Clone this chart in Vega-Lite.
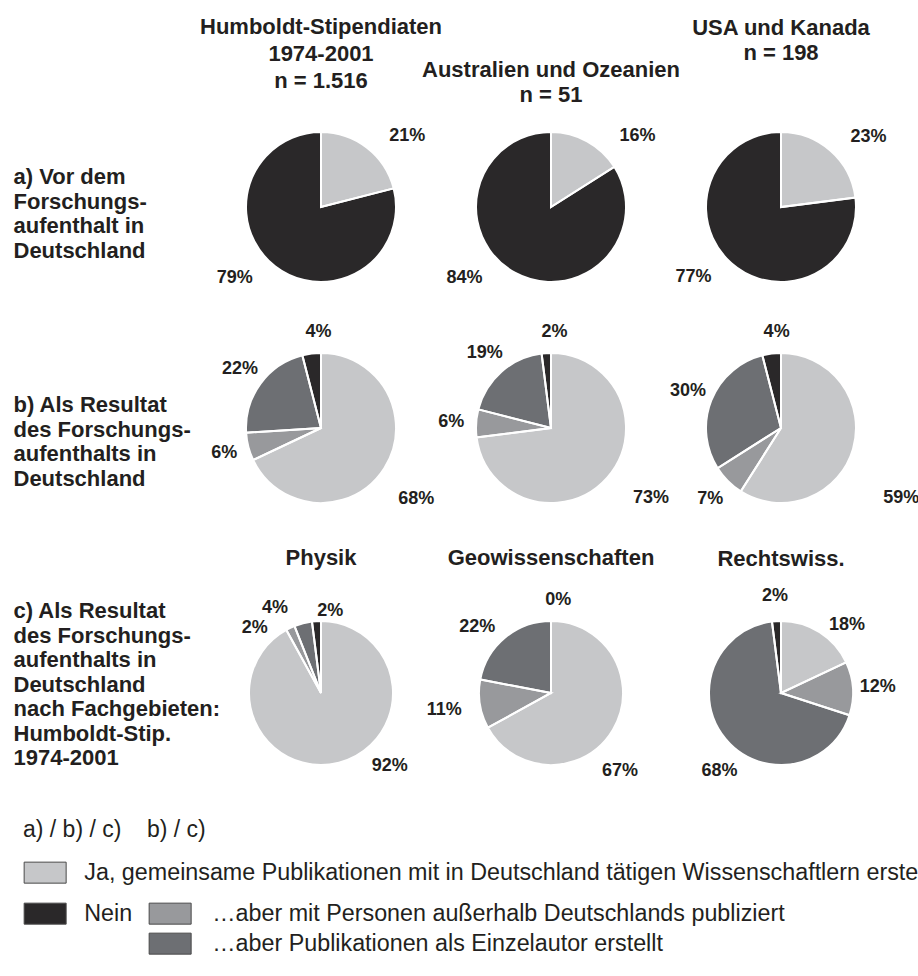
{
  "$schema": "https://vega.github.io/schema/vega-lite/v6.json",
  "background": "white",
  "padding": {"left": 13, "top": 15, "right": 0, "bottom": 5},
  "config": {
    "view": {"stroke": null},
    "font": "Liberation Sans",
    "title": {"fontSize": 22, "fontWeight": "bold", "color": "#231f20", "lineHeight": 25, "anchor": "middle"},
    "text": {"fontSize": 18, "fontWeight": "bold", "color": "#231f20"}
  },
  "datasets": {
    "pies": [
      {"p": "a1", "k": 1, "cat": "Ja, gemeinsame Publikationen mit in Deutschland tätigen Wissenschaftlern erstellt", "v": 0.21},
      {"p": "a1", "k": 4, "cat": "Nein", "v": 0.79},
      {"p": "a2", "k": 1, "cat": "Ja, gemeinsame Publikationen mit in Deutschland tätigen Wissenschaftlern erstellt", "v": 0.16},
      {"p": "a2", "k": 4, "cat": "Nein", "v": 0.84},
      {"p": "a3", "k": 1, "cat": "Ja, gemeinsame Publikationen mit in Deutschland tätigen Wissenschaftlern erstellt", "v": 0.23},
      {"p": "a3", "k": 4, "cat": "Nein", "v": 0.77},
      {"p": "b1", "k": 1, "cat": "Ja, gemeinsame Publikationen mit in Deutschland tätigen Wissenschaftlern erstellt", "v": 0.68},
      {"p": "b1", "k": 2, "cat": "…aber mit Personen außerhalb Deutschlands publiziert", "v": 0.06},
      {"p": "b1", "k": 3, "cat": "…aber Publikationen als Einzelautor erstellt", "v": 0.22},
      {"p": "b1", "k": 4, "cat": "Nein", "v": 0.04},
      {"p": "b2", "k": 1, "cat": "Ja, gemeinsame Publikationen mit in Deutschland tätigen Wissenschaftlern erstellt", "v": 0.73},
      {"p": "b2", "k": 2, "cat": "…aber mit Personen außerhalb Deutschlands publiziert", "v": 0.06},
      {"p": "b2", "k": 3, "cat": "…aber Publikationen als Einzelautor erstellt", "v": 0.19},
      {"p": "b2", "k": 4, "cat": "Nein", "v": 0.02},
      {"p": "b3", "k": 1, "cat": "Ja, gemeinsame Publikationen mit in Deutschland tätigen Wissenschaftlern erstellt", "v": 0.59},
      {"p": "b3", "k": 2, "cat": "…aber mit Personen außerhalb Deutschlands publiziert", "v": 0.07},
      {"p": "b3", "k": 3, "cat": "…aber Publikationen als Einzelautor erstellt", "v": 0.30},
      {"p": "b3", "k": 4, "cat": "Nein", "v": 0.04},
      {"p": "c1", "k": 1, "cat": "Ja, gemeinsame Publikationen mit in Deutschland tätigen Wissenschaftlern erstellt", "v": 0.92},
      {"p": "c1", "k": 2, "cat": "…aber mit Personen außerhalb Deutschlands publiziert", "v": 0.02},
      {"p": "c1", "k": 3, "cat": "…aber Publikationen als Einzelautor erstellt", "v": 0.04},
      {"p": "c1", "k": 4, "cat": "Nein", "v": 0.02},
      {"p": "c2", "k": 1, "cat": "Ja, gemeinsame Publikationen mit in Deutschland tätigen Wissenschaftlern erstellt", "v": 0.67},
      {"p": "c2", "k": 2, "cat": "…aber mit Personen außerhalb Deutschlands publiziert", "v": 0.11},
      {"p": "c2", "k": 3, "cat": "…aber Publikationen als Einzelautor erstellt", "v": 0.22},
      {"p": "c2", "k": 4, "cat": "Nein", "v": 0.0},
      {"p": "c3", "k": 1, "cat": "Ja, gemeinsame Publikationen mit in Deutschland tätigen Wissenschaftlern erstellt", "v": 0.18},
      {"p": "c3", "k": 2, "cat": "…aber mit Personen außerhalb Deutschlands publiziert", "v": 0.12},
      {"p": "c3", "k": 3, "cat": "…aber Publikationen als Einzelautor erstellt", "v": 0.68},
      {"p": "c3", "k": 4, "cat": "Nein", "v": 0.02}
    ],
    "rowlabels": [
      {"r": "a", "t": "a) Vor dem\nForschungs-\naufenthalt in\nDeutschland"},
      {"r": "b", "t": "b) Als Resultat\ndes Forschungs-\naufenthalts in\nDeutschland"},
      {"r": "c", "t": "c) Als Resultat\ndes Forschungs-\naufenthalts in\nDeutschland\nnach Fachgebieten:\nHumboldt-Stip.\n1974-2001"}
    ]
  },
  "data": {"name": "pies"},
  "spacing": 31,
  "vconcat": [
    {
      "bounds": "flush", "spacing": 232,
      "hconcat": [
        {"width": 1, "height": 150, "data": {"name": "rowlabels"}, "transform": [{"filter": "datum.r === 'a'"}],
         "mark": {"type": "text", "align": "left", "baseline": "middle", "lineBreak": "\n", "fontSize": 22, "fontWeight": "bold", "lineHeight": 24.5, "dy": -30},
         "encoding": {"text": {"field": "t", "type": "nominal"}}},
        {
          "bounds": "flush", "spacing": 80,
          "hconcat": [
            {"width": 150, "height": 150,
             "title": {"text": ["Humboldt-Stipendiaten", "1974-2001", "n = 1.516"], "offset": 34, "lineHeight": 27},
             "transform": [{"filter": "datum.p === 'a1'"}],
             "layer": [
               {"mark": {"type": "arc", "outerRadius": 75},
                "encoding": {"theta": {"field": "v", "type": "quantitative", "stack": true, "scale": {"domain": [0, 1]}},
                  "color": {"field": "cat", "type": "nominal",
                    "scale": {"domain": ["Ja, gemeinsame Publikationen mit in Deutschland tätigen Wissenschaftlern erstellt", "Nein"], "range": ["#c6c7c9", "#2a2829"]},
                    "legend": {"title": "a) / b) / c)\u00a0\u00a0\u00a0\u00a0b) / c)", "orient": "none", "legendX": 10, "legendY": 687, "direction": "vertical", "symbolType": "M-1,-1H3V1H-1Z", "symbolSize": 441, "symbolStrokeColor": "#4a4a4a", "symbolStrokeWidth": 1, "symbolOpacity": 1, "labelFont": "Liberation Sans", "labelFontSize": 23.3, "labelColor": "#231f20", "labelLimit": 0, "labelOffset": 38, "titleFont": "Liberation Sans", "titleFontSize": 23, "titleFontWeight": "normal", "titleColor": "#231f20", "titlePadding": 19, "titleLimit": 0, "rowPadding": 15, "padding": 0}},
                  "order": {"field": "k", "type": "quantitative"}}},
               {"mark": {"type": "arc", "outerRadius": 75, "filled": false, "stroke": "white", "strokeWidth": 2},
                "encoding": {"theta": {"field": "v", "type": "quantitative", "stack": true}, "order": {"field": "k", "type": "quantitative"}}},
               {"mark": {"type": "text", "radius": 112, "thetaOffset": 0.22},
                "encoding": {"theta": {"field": "v", "type": "quantitative", "stack": true}, "order": {"field": "k", "type": "quantitative"},
                  "text": {"field": "v", "type": "quantitative", "format": ".0%"}}}
             ]},
            {"width": 150, "height": 150,
             "title": {"text": ["Australien und Ozeanien", "n = 51"], "offset": 20},
             "transform": [{"filter": "datum.p === 'a2'"}],
             "layer": [
               {"mark": {"type": "arc", "outerRadius": 75},
                "encoding": {"theta": {"field": "v", "type": "quantitative", "stack": true, "scale": {"domain": [0, 1]}},
                  "color": {"field": "cat", "type": "nominal",
                    "scale": {"domain": ["Ja, gemeinsame Publikationen mit in Deutschland tätigen Wissenschaftlern erstellt", "Nein"], "range": ["#c6c7c9", "#2a2829"]}},
                  "order": {"field": "k", "type": "quantitative"}}},
               {"mark": {"type": "arc", "outerRadius": 75, "filled": false, "stroke": "white", "strokeWidth": 2},
                "encoding": {"theta": {"field": "v", "type": "quantitative", "stack": true}, "order": {"field": "k", "type": "quantitative"}}},
               {"mark": {"type": "text", "radius": 112, "thetaOffset": 0.38},
                "encoding": {"theta": {"field": "v", "type": "quantitative", "stack": true}, "order": {"field": "k", "type": "quantitative"},
                  "text": {"field": "v", "type": "quantitative", "format": ".0%"}}}
             ]},
            {"width": 150, "height": 150,
             "title": {"text": ["USA und Kanada", "n = 198"], "offset": 63},
             "transform": [{"filter": "datum.p === 'a3'"}],
             "layer": [
               {"mark": {"type": "arc", "outerRadius": 75},
                "encoding": {"theta": {"field": "v", "type": "quantitative", "stack": true, "scale": {"domain": [0, 1]}},
                  "color": {"field": "cat", "type": "nominal",
                    "scale": {"domain": ["Ja, gemeinsame Publikationen mit in Deutschland tätigen Wissenschaftlern erstellt", "Nein"], "range": ["#c6c7c9", "#2a2829"]}},
                  "order": {"field": "k", "type": "quantitative"}}},
               {"mark": {"type": "arc", "outerRadius": 75, "filled": false, "stroke": "white", "strokeWidth": 2},
                "encoding": {"theta": {"field": "v", "type": "quantitative", "stack": true}, "order": {"field": "k", "type": "quantitative"}}},
               {"mark": {"type": "text", "radius": 112, "thetaOffset": 0.175},
                "encoding": {"theta": {"field": "v", "type": "quantitative", "stack": true}, "order": {"field": "k", "type": "quantitative"},
                  "text": {"field": "v", "type": "quantitative", "format": ".0%"}}}
             ]}
          ]
        }
      ]
    },
    {
      "bounds": "flush", "spacing": 232,
      "hconcat": [
        {"width": 1, "height": 174, "data": {"name": "rowlabels"}, "transform": [{"filter": "datum.r === 'b'"}],
         "mark": {"type": "text", "align": "left", "baseline": "middle", "lineBreak": "\n", "fontSize": 22, "fontWeight": "bold", "lineHeight": 24.5, "dy": -23},
         "encoding": {"text": {"field": "t", "type": "nominal"}}},
        {
          "bounds": "flush", "spacing": 80,
          "hconcat": [
            {"width": 150, "height": 174,
             "transform": [{"filter": "datum.p === 'b1'"}],
             "layer": [
               {"mark": {"type": "arc", "outerRadius": 75},
                "encoding": {"theta": {"field": "v", "type": "quantitative", "stack": true, "scale": {"domain": [0, 1]}},
                  "fill": {"field": "cat", "type": "nominal",
                    "scale": {"domain": ["Ja, gemeinsame Publikationen mit in Deutschland tätigen Wissenschaftlern erstellt", "…aber mit Personen außerhalb Deutschlands publiziert", "…aber Publikationen als Einzelautor erstellt", "Nein"], "range": ["#c6c7c9", "#98999c", "#6d6f73", "#2a2829"]},
                    "legend": {"title": null, "values": ["…aber mit Personen außerhalb Deutschlands publiziert", "…aber Publikationen als Einzelautor erstellt"], "orient": "none", "legendX": 135, "legendY": 770, "direction": "vertical", "symbolType": "M-1,-1H3V1H-1Z", "symbolSize": 441, "symbolStrokeColor": "#4a4a4a", "symbolStrokeWidth": 1, "symbolOpacity": 1, "labelFont": "Liberation Sans", "labelFontSize": 23.3, "labelColor": "#231f20", "labelLimit": 0, "labelOffset": 41, "rowPadding": 4, "padding": 0}},
                  "order": {"field": "k", "type": "quantitative"}}},
               {"mark": {"type": "arc", "outerRadius": 75, "filled": false, "stroke": "white", "strokeWidth": 2},
                "encoding": {"theta": {"field": "v", "type": "quantitative", "stack": true}, "order": {"field": "k", "type": "quantitative"}}},
               {"transform": [{"filter": "datum.k === 1"}],
                "mark": {"type": "text", "radius": 119, "thetaOffset": 0.077},
                "encoding": {"theta": {"field": "v", "type": "quantitative", "stack": true}, "order": {"field": "k", "type": "quantitative"},
                  "text": {"field": "v", "type": "quantitative", "format": ".0%"}}},
               {"mark": {"type": "text", "radius": 100},
                "encoding": {"theta": {"field": "v", "type": "quantitative", "stack": true}, "order": {"field": "k", "type": "quantitative"},
                  "text": {"condition": {"test": "datum.k === 2 || datum.k === 3", "field": "v", "type": "quantitative", "format": ".0%"}, "value": ""}}},
               {"mark": {"type": "text", "radius": 96, "thetaOffset": 0.1},
                "encoding": {"theta": {"field": "v", "type": "quantitative", "stack": true}, "order": {"field": "k", "type": "quantitative"},
                  "text": {"condition": {"test": "datum.k === 4", "field": "v", "type": "quantitative", "format": ".0%"}, "value": ""}}}
             ]},
            {"width": 150, "height": 174,
             "transform": [{"filter": "datum.p === 'b2'"}],
             "layer": [
               {"mark": {"type": "arc", "outerRadius": 75},
                "encoding": {"theta": {"field": "v", "type": "quantitative", "stack": true, "scale": {"domain": [0, 1]}},
                  "fill": {"field": "cat", "type": "nominal",
                    "scale": {"domain": ["Ja, gemeinsame Publikationen mit in Deutschland tätigen Wissenschaftlern erstellt", "…aber mit Personen außerhalb Deutschlands publiziert", "…aber Publikationen als Einzelautor erstellt", "Nein"], "range": ["#c6c7c9", "#98999c", "#6d6f73", "#2a2829"]}},
                  "order": {"field": "k", "type": "quantitative"}}},
               {"mark": {"type": "arc", "outerRadius": 75, "filled": false, "stroke": "white", "strokeWidth": 2},
                "encoding": {"theta": {"field": "v", "type": "quantitative", "stack": true}, "order": {"field": "k", "type": "quantitative"}}},
               {"transform": [{"filter": "datum.k === 1"}],
                "mark": {"type": "text", "radius": 122, "thetaOffset": -0.112},
                "encoding": {"theta": {"field": "v", "type": "quantitative", "stack": true}, "order": {"field": "k", "type": "quantitative"},
                  "text": {"field": "v", "type": "quantitative", "format": ".0%"}}},
               {"mark": {"type": "text", "radius": 100},
                "encoding": {"theta": {"field": "v", "type": "quantitative", "stack": true}, "order": {"field": "k", "type": "quantitative"},
                  "text": {"condition": {"test": "datum.k === 2 || datum.k === 3", "field": "v", "type": "quantitative", "format": ".0%"}, "value": ""}}},
               {"mark": {"type": "text", "radius": 96, "thetaOffset": 0.1},
                "encoding": {"theta": {"field": "v", "type": "quantitative", "stack": true}, "order": {"field": "k", "type": "quantitative"},
                  "text": {"condition": {"test": "datum.k === 4", "field": "v", "type": "quantitative", "format": ".0%"}, "value": ""}}}
             ]},
            {"width": 150, "height": 174,
             "transform": [{"filter": "datum.p === 'b3'"}],
             "layer": [
               {"mark": {"type": "arc", "outerRadius": 75},
                "encoding": {"theta": {"field": "v", "type": "quantitative", "stack": true, "scale": {"domain": [0, 1]}},
                  "fill": {"field": "cat", "type": "nominal",
                    "scale": {"domain": ["Ja, gemeinsame Publikationen mit in Deutschland tätigen Wissenschaftlern erstellt", "…aber mit Personen außerhalb Deutschlands publiziert", "…aber Publikationen als Einzelautor erstellt", "Nein"], "range": ["#c6c7c9", "#98999c", "#6d6f73", "#2a2829"]}},
                  "order": {"field": "k", "type": "quantitative"}}},
               {"mark": {"type": "arc", "outerRadius": 75, "filled": false, "stroke": "white", "strokeWidth": 2},
                "encoding": {"theta": {"field": "v", "type": "quantitative", "stack": true}, "order": {"field": "k", "type": "quantitative"}}},
               {"transform": [{"filter": "datum.k === 1"}],
                "mark": {"type": "text", "radius": 139, "thetaOffset": 0.244},
                "encoding": {"theta": {"field": "v", "type": "quantitative", "stack": true}, "order": {"field": "k", "type": "quantitative"},
                  "text": {"field": "v", "type": "quantitative", "format": ".0%"}}},
               {"mark": {"type": "text", "radius": 100},
                "encoding": {"theta": {"field": "v", "type": "quantitative", "stack": true}, "order": {"field": "k", "type": "quantitative"},
                  "text": {"condition": {"test": "datum.k === 2 || datum.k === 3", "field": "v", "type": "quantitative", "format": ".0%"}, "value": ""}}},
               {"mark": {"type": "text", "radius": 96, "thetaOffset": 0.08},
                "encoding": {"theta": {"field": "v", "type": "quantitative", "stack": true}, "order": {"field": "k", "type": "quantitative"},
                  "text": {"condition": {"test": "datum.k === 4", "field": "v", "type": "quantitative", "format": ".0%"}, "value": ""}}}
             ]}
          ]
        }
      ]
    },
    {
      "bounds": "flush", "spacing": 232,
      "hconcat": [
        {"width": 1, "height": 144, "data": {"name": "rowlabels"}, "transform": [{"filter": "datum.r === 'c'"}],
         "mark": {"type": "text", "align": "left", "baseline": "middle", "lineBreak": "\n", "fontSize": 22, "fontWeight": "bold", "lineHeight": 24.5, "dy": -82},
         "encoding": {"text": {"field": "t", "type": "nominal"}}},
        {
          "bounds": "flush", "spacing": 80,
          "hconcat": [
            {"width": 150, "height": 144,
             "title": {"text": "Physik", "offset": 22},
             "transform": [{"filter": "datum.p === 'c1'"}],
             "layer": [
               {"mark": {"type": "arc", "outerRadius": 72},
                "encoding": {"theta": {"field": "v", "type": "quantitative", "stack": true, "scale": {"domain": [0, 1]}},
                  "fill": {"field": "cat", "type": "nominal",
                    "scale": {"domain": ["Ja, gemeinsame Publikationen mit in Deutschland tätigen Wissenschaftlern erstellt", "…aber mit Personen außerhalb Deutschlands publiziert", "…aber Publikationen als Einzelautor erstellt", "Nein"], "range": ["#c6c7c9", "#98999c", "#6d6f73", "#2a2829"]}},
                  "order": {"field": "k", "type": "quantitative"}}},
               {"mark": {"type": "arc", "outerRadius": 72, "filled": false, "stroke": "white", "strokeWidth": 2},
                "encoding": {"theta": {"field": "v", "type": "quantitative", "stack": true}, "order": {"field": "k", "type": "quantitative"}}},
               {"transform": [{"filter": "datum.k === 1"}],
                "mark": {"type": "text", "radius": 100, "thetaOffset": -0.506},
                "encoding": {"theta": {"field": "v", "type": "quantitative", "stack": true}, "order": {"field": "k", "type": "quantitative"},
                  "text": {"field": "v", "type": "quantitative", "format": ".0%"}}},
               {"mark": {"type": "text", "radius": 93, "thetaOffset": -0.353},
                "encoding": {"theta": {"field": "v", "type": "quantitative", "stack": true}, "order": {"field": "k", "type": "quantitative"},
                  "text": {"condition": {"test": "datum.k === 2", "field": "v", "type": "quantitative", "format": ".0%"}, "value": ""}}},
               {"mark": {"type": "text", "radius": 97, "thetaOffset": -0.244},
                "encoding": {"theta": {"field": "v", "type": "quantitative", "stack": true}, "order": {"field": "k", "type": "quantitative"},
                  "text": {"condition": {"test": "datum.k === 3", "field": "v", "type": "quantitative", "format": ".0%"}, "value": ""}}},
               {"mark": {"type": "text", "radius": 83, "thetaOffset": 0.173},
                "encoding": {"theta": {"field": "v", "type": "quantitative", "stack": true}, "order": {"field": "k", "type": "quantitative"},
                  "text": {"condition": {"test": "datum.k === 4", "field": "v", "type": "quantitative", "format": ".0%"}, "value": ""}}}
             ]},
            {"width": 150, "height": 144,
             "title": {"text": "Geowissenschaften", "offset": 6},
             "transform": [{"filter": "datum.p === 'c2'"}],
             "layer": [
               {"mark": {"type": "arc", "outerRadius": 72},
                "encoding": {"theta": {"field": "v", "type": "quantitative", "stack": true, "scale": {"domain": [0, 1]}},
                  "fill": {"field": "cat", "type": "nominal",
                    "scale": {"domain": ["Ja, gemeinsame Publikationen mit in Deutschland tätigen Wissenschaftlern erstellt", "…aber mit Personen außerhalb Deutschlands publiziert", "…aber Publikationen als Einzelautor erstellt", "Nein"], "range": ["#c6c7c9", "#98999c", "#6d6f73", "#2a2829"]}},
                  "order": {"field": "k", "type": "quantitative"}}},
               {"mark": {"type": "arc", "outerRadius": 72, "filled": false, "stroke": "white", "strokeWidth": 2},
                "encoding": {"theta": {"field": "v", "type": "quantitative", "stack": true}, "order": {"field": "k", "type": "quantitative"}}},
               {"transform": [{"filter": "datum.k === 1"}],
                "mark": {"type": "text", "radius": 104, "thetaOffset": 0.312},
                "encoding": {"theta": {"field": "v", "type": "quantitative", "stack": true}, "order": {"field": "k", "type": "quantitative"},
                  "text": {"field": "v", "type": "quantitative", "format": ".0%"}}},
               {"mark": {"type": "text", "radius": 108},
                "encoding": {"theta": {"field": "v", "type": "quantitative", "stack": true}, "order": {"field": "k", "type": "quantitative"},
                  "text": {"condition": {"test": "datum.k === 2", "field": "v", "type": "quantitative", "format": ".0%"}, "value": ""}}},
               {"mark": {"type": "text", "radius": 99, "thetaOffset": -0.15},
                "encoding": {"theta": {"field": "v", "type": "quantitative", "stack": true}, "order": {"field": "k", "type": "quantitative"},
                  "text": {"condition": {"test": "datum.k === 3", "field": "v", "type": "quantitative", "format": ".0%"}, "value": ""}}},
               {"mark": {"type": "text", "radius": 93, "thetaOffset": 0.077},
                "encoding": {"theta": {"field": "v", "type": "quantitative", "stack": true}, "order": {"field": "k", "type": "quantitative"},
                  "text": {"condition": {"test": "datum.k === 4", "field": "v", "type": "quantitative", "format": ".0%"}, "value": ""}}}
             ]},
            {"width": 150, "height": 144,
             "title": {"text": "Rechtswiss.", "offset": 16},
             "transform": [{"filter": "datum.p === 'c3'"}],
             "layer": [
               {"mark": {"type": "arc", "outerRadius": 72},
                "encoding": {"theta": {"field": "v", "type": "quantitative", "stack": true, "scale": {"domain": [0, 1]}},
                  "fill": {"field": "cat", "type": "nominal",
                    "scale": {"domain": ["Ja, gemeinsame Publikationen mit in Deutschland tätigen Wissenschaftlern erstellt", "…aber mit Personen außerhalb Deutschlands publiziert", "…aber Publikationen als Einzelautor erstellt", "Nein"], "range": ["#c6c7c9", "#98999c", "#6d6f73", "#2a2829"]}},
                  "order": {"field": "k", "type": "quantitative"}}},
               {"mark": {"type": "arc", "outerRadius": 72, "filled": false, "stroke": "white", "strokeWidth": 2},
                "encoding": {"theta": {"field": "v", "type": "quantitative", "stack": true}, "order": {"field": "k", "type": "quantitative"}}},
               {"transform": [{"filter": "datum.k === 1"}],
                "mark": {"type": "text", "radius": 95, "thetaOffset": 0.204},
                "encoding": {"theta": {"field": "v", "type": "quantitative", "stack": true}, "order": {"field": "k", "type": "quantitative"},
                  "text": {"field": "v", "type": "quantitative", "format": ".0%"}}},
               {"mark": {"type": "text", "radius": 97},
                "encoding": {"theta": {"field": "v", "type": "quantitative", "stack": true}, "order": {"field": "k", "type": "quantitative"},
                  "text": {"condition": {"test": "datum.k === 2 || datum.k === 4", "field": "v", "type": "quantitative", "format": ".0%"}, "value": ""}}},
               {"mark": {"type": "text", "radius": 99, "thetaOffset": -0.21},
                "encoding": {"theta": {"field": "v", "type": "quantitative", "stack": true}, "order": {"field": "k", "type": "quantitative"},
                  "text": {"condition": {"test": "datum.k === 3", "field": "v", "type": "quantitative", "format": ".0%"}, "value": ""}}}
             ]}
          ]
        }
      ]
    }
  ]
}
